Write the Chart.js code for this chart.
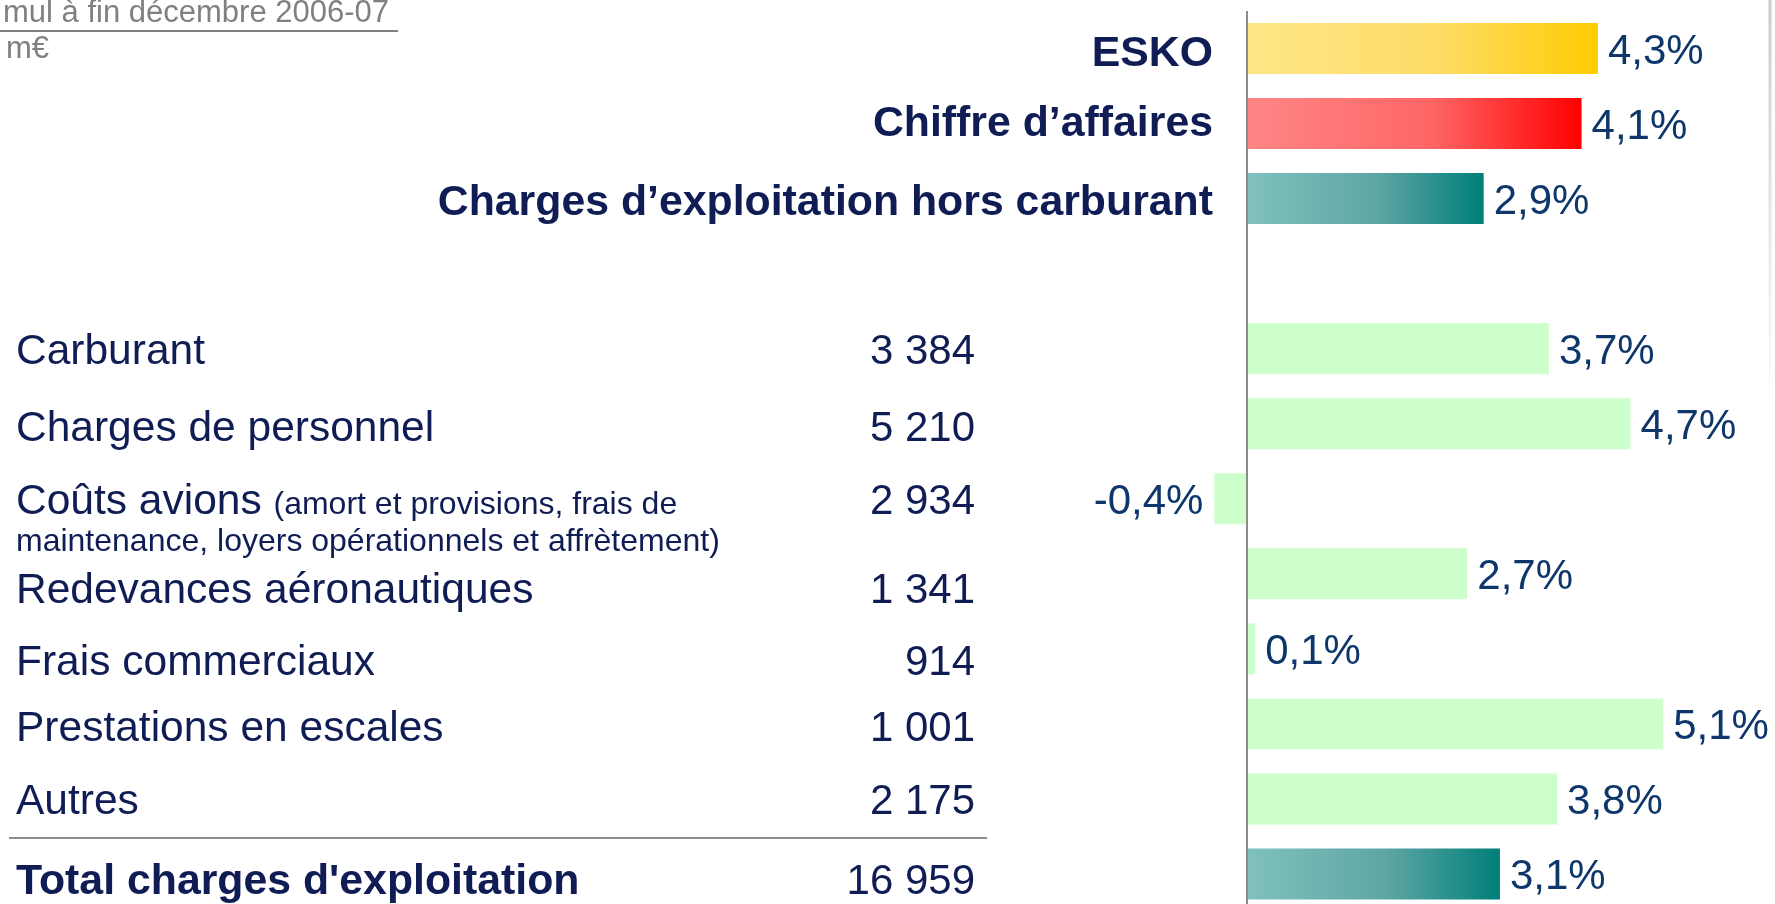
<!DOCTYPE html>
<html lang="fr">
<head>
<meta charset="UTF-8">
<meta name="viewport" content="width=device-width, initial-scale=1.0">
<title>Charges d'exploitation</title>
<script src="https://cdn.jsdelivr.net/npm/chart.js"></script>
<style>
  html, body { margin: 0; padding: 0; background: #fff; }
  #wrap { position: relative; width: 1775px; height: 904px; }
</style>
</head>
<body>
<div id="wrap"><canvas id="myChart"></canvas></div>
<script>
// rows, top to bottom ('' = empty spacer row)
const categories = ['ESKO', 'Chiffre d’affaires', 'Charges d’exploitation hors carburant', '',
  'Carburant', 'Charges de personnel', 'Coûts avions', 'Redevances aéronautiques',
  'Frais commerciaux', 'Prestations en escales', 'Autres', "Total charges d'exploitation"];
// variation in %
const growth = [4.3, 4.1, 2.9, null, 3.7, 4.7, -0.4, 2.7, 0.1, 5.1, 3.8, 3.1];
// cumul in m€
const amounts = [null, null, null, null, 3384, 5210, 2934, 1341, 914, 1001, 2175, 16959];
const barStyles = ['yellow', 'red', 'teal', null, 'green', 'green', 'green', 'green', 'green', 'green', 'green', 'teal'];
const headerRows = [0, 1, 2];
const totalRow = 11;
const noteRow = 6;
const noteLines = ['(amort et provisions, frais de', 'maintenance, loyers opérationnels et affrètement)'];
const periodLabel = 'mul à fin décembre 2006-07';
const unitLabel = 'm€';
// the left-hand table text does not sit exactly on the bar rows
const textShift = [2, -3, 1, 0, 0, 2, 0, 14, 11, 2, 0, 5];

const FONT = "'Liberation Sans', Arial, Helvetica, sans-serif";
const NAVY = '#101d55';
const VALUE_BLUE = '#0d376b';
const gradients = {
    yellow: ['#fee688', '#fddc66', '#ffcc00'],
    red: ['#ff8686', '#ff6666', '#ff0000'],
    teal: ['#80c1bf', '#5ea6a4', '#007f7a']
};

const fmtAmount = n => String(n).replace(/\B(?=(\d{3})+(?!\d))/g, ' ');
const fmtPct = v => v.toFixed(1).replace('.', ',') + '%';

function barColor(ctx) {
    const i = ctx.dataIndex;
    const style = barStyles[i];
    if (i === undefined || !style || style === 'green') return '#ccffcc';
    const stops = gradients[style];
    const xs = ctx.chart.scales.x;
    if (!xs || growth[i] == null) return stops[2];
    const x0 = xs.getPixelForValue(0);
    const x1 = xs.getPixelForValue(growth[i]);
    if (!isFinite(x0) || !isFinite(x1)) return stops[2];
    const g = ctx.chart.ctx.createLinearGradient(x0, 0, x1, 0);
    g.addColorStop(0, stops[0]);
    g.addColorStop(0.55, stops[1]);
    g.addColorStop(1, stops[2]);
    return g;
}

const tablePlugin = {
    id: 'tableText',
    beforeDraw(chart) {
        const ctx = chart.ctx;
        ctx.save();
        // faint slide edge on the right
        const sg = ctx.createLinearGradient(0, 0, 0, 420);
        sg.addColorStop(0, 'rgba(160,160,160,0.55)');
        sg.addColorStop(1, 'rgba(160,160,160,0)');
        ctx.strokeStyle = sg;
        ctx.lineWidth = 3;
        ctx.beginPath();
        ctx.moveTo(1770, 0);
        ctx.lineTo(1770, 420);
        ctx.stroke();

        // top-left caption
        ctx.fillStyle = '#808080';
        ctx.font = '31px ' + FONT;
        ctx.textAlign = 'left';
        ctx.textBaseline = 'alphabetic';
        ctx.fillText(periodLabel, 3, 22);
        ctx.fillText(unitLabel, 6, 58);
        ctx.strokeStyle = '#808080';
        ctx.lineWidth = 2;
        ctx.beginPath();
        ctx.moveTo(0, 31);
        ctx.lineTo(398, 31);
        ctx.stroke();

        // separator above total
        ctx.strokeStyle = '#8c8c8c';
        ctx.beginPath();
        ctx.moveTo(9, 838);
        ctx.lineTo(987, 838);
        ctx.stroke();
        ctx.restore();
    },
    afterDatasetsDraw(chart) {
        const {ctx, scales: {x, y}} = chart;
        const zero = x.getPixelForValue(0);
        ctx.save();
        ctx.strokeStyle = '#8c8c8c';
        ctx.lineWidth = 2;
        ctx.beginPath();
        ctx.moveTo(zero, 11);
        ctx.lineTo(zero, chart.height);
        ctx.stroke();

        ctx.textBaseline = 'alphabetic';
        categories.forEach((label, i) => {
            if (!label) return;
            const rowBase = y.getPixelForValue(i) + 15;
            const base = rowBase + textShift[i];
            ctx.fillStyle = NAVY;
            if (headerRows.includes(i)) {
                ctx.font = 'bold 42.8px ' + FONT;
                ctx.textAlign = 'right';
                ctx.fillText(label, 1213, base);
            } else if (i === totalRow) {
                ctx.font = 'bold 42.8px ' + FONT;
                ctx.textAlign = 'left';
                ctx.fillText(label, 16, base);
            } else {
                ctx.font = '42.5px ' + FONT;
                ctx.textAlign = 'left';
                ctx.fillText(label, 16, base);
                if (i === noteRow) {
                    const w = ctx.measureText(label + ' ').width;
                    ctx.font = '32px ' + FONT;
                    ctx.fillText(noteLines[0], 16 + w, base);
                    ctx.fillText(noteLines[1], 16, base + 37);
                }
            }
            if (amounts[i] != null) {
                ctx.font = '42px ' + FONT;
                ctx.textAlign = 'right';
                ctx.fillText(fmtAmount(amounts[i]), 975, base);
            }
            const v = growth[i];
            if (v != null) {
                const end = x.getPixelForValue(v);
                ctx.font = '42px ' + FONT;
                ctx.fillStyle = VALUE_BLUE;
                if (v >= 0) {
                    ctx.textAlign = 'left';
                    ctx.fillText(fmtPct(v), end + 10, rowBase);
                } else {
                    ctx.textAlign = 'right';
                    ctx.fillText(fmtPct(v), end - 11, rowBase);
                }
            }
        });
        ctx.restore();
    }
};

const config = {
    type: 'bar',
    data: {
        labels: categories,
        datasets: [{
            label: 'Variation',
            data: growth,
            backgroundColor: barColor,
            borderWidth: 0,
            barPercentage: 0.68,
            categoryPercentage: 1,
            clip: false
        }]
    },
    options: {
        indexAxis: 'y',
        responsive: true,
        maintainAspectRatio: false,
        animation: false,
        layout: {
            padding: {left: 1165.4, right: 38.4, top: 48.5, bottom: 30}
        },
        plugins: {
            legend: {display: false},
            tooltip: {enabled: false},
            title: {display: false}
        },
        scales: {
            x: {
                display: false,
                min: -1,
                max: 6
            },
            y: {
                display: false,
                offset: false,
                grid: {display: false}
            }
        }
    },
    plugins: [tablePlugin]
};

const myChart = new Chart(document.getElementById('myChart'), config);
</script>
</body>
</html>
